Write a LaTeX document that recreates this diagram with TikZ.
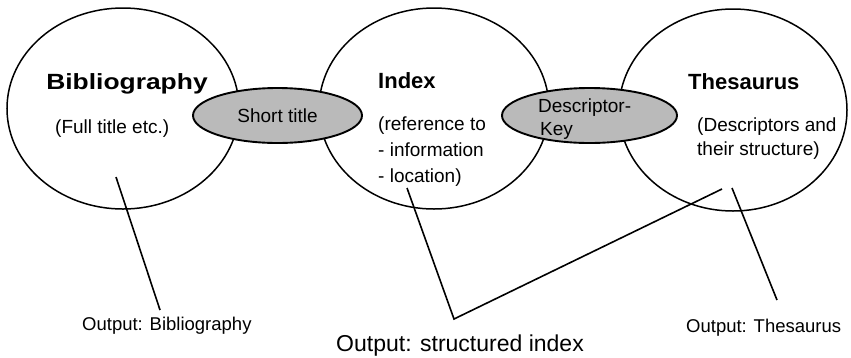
\documentclass[tikz,border=0pt]{standalone}
\usepackage{fontspec}
\setmainfont{Liberation Sans}
\usetikzlibrary{shapes.geometric}
\begin{document}
\begin{tikzpicture}[x=1pt,y=-1pt,
  bigell/.style={draw, ellipse, line width=1.5pt, inner sep=0pt},
  smallell/.style={draw, ellipse, line width=1.9pt, fill=black!27, inner sep=0pt,
    font=\fontsize{19}{23}\selectfont},
  lbl/.style={anchor=base west, inner sep=0pt, font=\fontsize{19}{23}\selectfont},
  head/.style={anchor=base west, inner sep=0pt, font=\fontsize{22}{26}\selectfont\bfseries},
  outlbl/.style={anchor=base west, inner sep=0pt, font=\fontsize{18.5}{22}\selectfont},
  conn/.style={line width=1.6pt}]
\useasboundingbox[fill=white] (0,0) rectangle (851,357);
% big ellipses
\node[bigell, minimum width=232pt, minimum height=201pt] (bib) at (123,108.5) {};
\node[bigell, minimum width=230pt, minimum height=201pt] (idx) at (434,108.5) {};
\node[bigell, minimum width=228pt, minimum height=202pt] (the) at (733,110) {};
% overlap ellipses
\node[smallell, minimum width=169pt, minimum height=55pt] (short) at (277.5,115.5) {Short title};
\node[smallell, minimum width=175pt, minimum height=55pt] (desc) at (589.5,115.5) {};
\node[lbl] (desc1) at (538,112) {Descriptor-};
\node[lbl] (desc2) at (540,135) {Key};
% texts
\node[anchor=base, inner sep=0pt, font=\fontsize{22}{26}\selectfont\bfseries] (bibt) at (127,89) {\scalebox{1.2}[1]{Bibliography}};
\node[lbl] (bibs) at (55,133) {(Full title etc.)};
\node[head] (idxt) at (378,88) {Index};
\node[lbl] (idx1) at (378,130) {(reference to};
\node[lbl] (idx2) at (378,156) {- information};
\node[lbl] (idx3) at (378,182) {- location)};
\node[head] (thet) at (688,89) {Thesaurus};
\node[lbl] (the1) at (697,131) {(Descriptors and};
\node[lbl] (the2) at (697,155) {their structure)};
% outputs
\node[outlbl] (obib) at (82,330) {Output: Bibliography};
\node[anchor=base west, inner sep=0pt, font=\fontsize{23}{27}\selectfont] (oidx) at (336,351) {Output: structured index};
\node[outlbl] (othe) at (686,332) {Output: Thesaurus};
% connectors
\coordinate (bibin) at (116,177);
\coordinate (bibend) at (160,310);
\coordinate (idxin) at (407,188);
\coordinate (vbot) at (454,319);
\coordinate (thein1) at (722,189);
\coordinate (thein2) at (732,188);
\coordinate (theend) at (777,300);
\draw[conn] (bibin) -- (bibend);
\draw[conn, line join=miter] (idxin) -- (vbot) -- (thein1);
\draw[conn] (thein2) -- (theend);
\end{tikzpicture}
\end{document}
